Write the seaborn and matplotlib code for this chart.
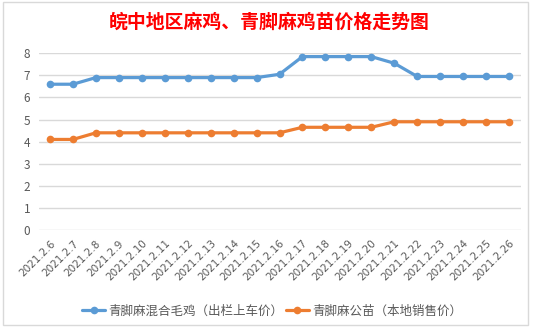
import matplotlib
matplotlib.use("Agg")
import matplotlib.pyplot as plt
import seaborn as sns
import pandas as pd
from matplotlib.patches import Rectangle

dates = ["2021.2.6", "2021.2.7", "2021.2.8", "2021.2.9", "2021.2.10", "2021.2.11",
         "2021.2.12", "2021.2.13", "2021.2.14", "2021.2.15", "2021.2.16", "2021.2.17",
         "2021.2.18", "2021.2.19", "2021.2.20", "2021.2.21", "2021.2.22", "2021.2.23",
         "2021.2.24", "2021.2.25", "2021.2.26"]
broiler = [6.6, 6.6, 6.9, 6.9, 6.9, 6.9, 6.9, 6.9, 6.9, 6.9, 7.05, 7.85,
           7.85, 7.85, 7.85, 7.55, 6.95, 6.95, 6.95, 6.95, 6.95]
chick = [4.1, 4.1, 4.4, 4.4, 4.4, 4.4, 4.4, 4.4, 4.4, 4.4, 4.4, 4.65,
         4.65, 4.65, 4.65, 4.9, 4.9, 4.9, 4.9, 4.9, 4.9]
series_names = ["青脚麻混合毛鸡（出栏上车价）", "青脚麻公苗（本地销售价）"]
title = "皖中地区麻鸡、青脚麻鸡苗价格走势图"
yticks = [0, 1, 2, 3, 4, 5, 6, 7, 8]

sns.set_theme(style="white")
plt.rcParams['font.family'] = ['Noto Sans CJK SC', 'DejaVu Sans']

df = pd.DataFrame({
    "date": dates * 2,
    "price": broiler + chick,
    "series": [series_names[0]] * len(dates) + [series_names[1]] * len(dates),
})

fig = plt.figure(figsize=(5.39, 3.28), dpi=100)
fig.patch.set_facecolor("white")
ax = fig.add_axes([38.5 / 539, 1 - 230 / 328, 482 / 539, (230 - 53.3) / 328])

palette = {series_names[0]: "#5B9BD5", series_names[1]: "#ED7D31"}
sns.lineplot(data=df, x="date", y="price", hue="series", palette=palette,
             marker="o", markersize=5.5, markeredgewidth=0, linewidth=2.3,
             sort=False, ax=ax, legend=True)

ax.set_xlim(-0.5, len(dates) - 0.5)
ax.set_ylim(0, 8)
ax.set_yticks(yticks)
ax.yaxis.grid(True, color="#D9D9D9", linewidth=1)
ax.xaxis.grid(False)
for s in ax.spines.values():
    s.set_visible(False)
ax.set_xlabel("")
ax.set_ylabel("")
ax.tick_params(axis="y", length=0, pad=6, labelsize=8.5, labelcolor="#595959")
ax.tick_params(axis="x", length=0, pad=6, labelsize=8, labelcolor="#595959")
ax.set_xticks(range(len(dates)))
ax.set_xticklabels(dates, rotation=45, ha="right", rotation_mode="anchor")
for lbl in ax.get_xticklabels():
    lbl.set_family(['DejaVu Sans'])
    lbl.set_fontsize(7.5)

leg = ax.legend(loc="upper center", bbox_to_anchor=(0.485, -0.36), ncol=2, frameon=False,
                fontsize=9.0, handlelength=1.8, columnspacing=0.2, handletextpad=0.3)
for t in leg.get_texts():
    t.set_color("#595959")

fig.text(0.5, 1 - 22 / 328, title, ha="center", va="center", color="#FF0000",
         fontsize=13.6, fontweight="bold")

fig.patches.append(Rectangle((3 / 539, 1 - 325 / 328), 525 / 539, 323 / 328,
                             transform=fig.transFigure, fill=False,
                             edgecolor="#D9D9D9", linewidth=1))

fig.savefig("out.png", dpi=100)
